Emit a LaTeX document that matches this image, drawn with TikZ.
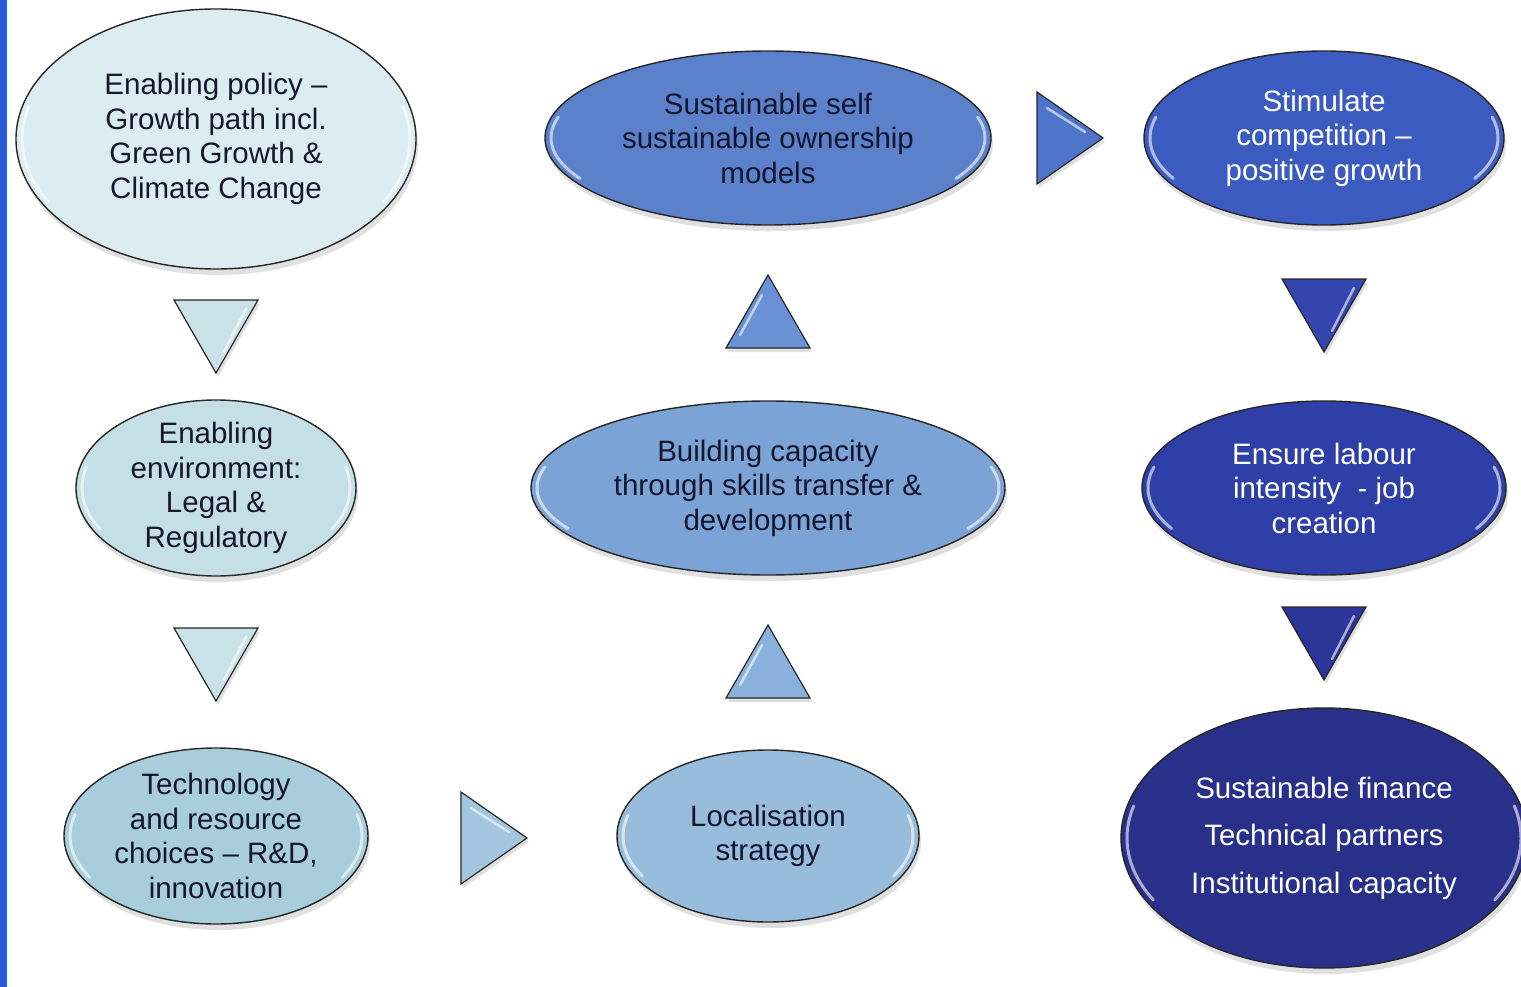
\documentclass[tikz,border=0pt]{standalone}
\usepackage{fontspec}
\setmainfont{Liberation Sans}
\usetikzlibrary{calc}
\definecolor{strip}{HTML}{2C5BD6}
\definecolor{cA}{HTML}{DCEDF1}
\definecolor{cB}{HTML}{C4DFE6}
\definecolor{cC}{HTML}{A8CDDC}
\definecolor{cD}{HTML}{98BDDC}
\definecolor{cE}{HTML}{7CA3D6}
\definecolor{cF}{HTML}{5B81CB}
\definecolor{cG}{HTML}{3C5BC0}
\definecolor{cH}{HTML}{2F3FA8}
\definecolor{cI}{HTML}{29308A}
\definecolor{tA}{HTML}{C8E2E8}
\definecolor{tB}{HTML}{A2C6E0}
\definecolor{tC}{HTML}{8AB1DC}
\definecolor{tD}{HTML}{6A91D3}
\definecolor{tE}{HTML}{4F75CB}
\definecolor{tF}{HTML}{3545B0}
\definecolor{tG}{HTML}{2C3598}
\definecolor{darktext}{HTML}{15152E}
\tikzset{
  ovalline/.style={draw=black!85, line width=1.4pt},
  txt/.style={align=center, inner sep=0pt, font=\fontsize{29.5}{34.5}\selectfont},
  gloss/.style={draw=white, line width=3pt, opacity=0.6, line cap=round},
  shadowfill/.style={fill=black, opacity=0.12},
  triline/.style={draw=black!85, line width=1.2pt, line join=miter}
}
% name, x, y, rx, ry, fill, textcolor, text
\newcommand\myoval[8]{%
  \fill[shadowfill] (#2+2,#3+6) ellipse [x radius=#4, y radius=#5];
  \path[ovalline, fill=#6] (#2,#3) ellipse [x radius=#4, y radius=#5];
  \draw[gloss] (#2,#3) ++(150:#4-6 and #5-6) arc [start angle=150, end angle=195, x radius=#4-6, y radius=#5-6];
  \draw[gloss] (#2,#3) ++(-15:#4-6 and #5-6) arc [start angle=-15, end angle=30, x radius=#4-6, y radius=#5-6];
  \node[txt, text=#7] (#1) at (#2,#3) {#8};
}
% down triangle: x, ytop, fill
\newcommand\downtri[3]{%
  \fill[shadowfill] (#1-42+2,#2+4) -- (#1+42+2,#2+4) -- (#1+2,#2+77) -- cycle;
  \path[triline, fill=#3] (#1-42,#2) -- (#1+42,#2) -- (#1,#2+73) -- cycle;
  \draw[gloss, line width=2.5pt] (#1+30,#2+9) -- (#1+8,#2+52);
}
% up triangle: x, ytip, fill
\newcommand\uptri[3]{%
  \fill[shadowfill] (#1+2,#2+4) -- (#1+42+2,#2+77) -- (#1-42+2,#2+77) -- cycle;
  \path[triline, fill=#3] (#1,#2) -- (#1+42,#2+73) -- (#1-42,#2+73) -- cycle;
  \draw[gloss, line width=2.5pt] (#1-6,#2+20) -- (#1-28,#2+60);
}
% right triangle: xleft, ymid, fill
\newcommand\righttri[3]{%
  \fill[shadowfill] (#1+2,#2-46+4) -- (#1+66+2,#2+4) -- (#1+2,#2+46+4) -- cycle;
  \path[triline, fill=#3] (#1,#2-46) -- (#1+66,#2) -- (#1,#2+46) -- cycle;
  \draw[gloss, line width=2.5pt] (#1+10,#2-30) -- (#1+48,#2-6);
}
\begin{document}
\begin{tikzpicture}[x=1pt,y=-1pt]
\useasboundingbox (0,0) rectangle (1521,987);
\fill[white] (0,0) rectangle (1521,987);
\fill[strip] (0,0) rectangle (7,987);

% left column
\myoval{policy}{216}{139}{200}{130}{cA}{darktext}{Enabling policy –\\Growth path incl.\\Green Growth \&\\Climate Change}
\myoval{environment}{216}{488}{140}{88}{cB}{darktext}{Enabling\\environment:\\Legal \&\\Regulatory}
\myoval{technology}{216}{836}{152}{88}{cC}{darktext}{Technology\\and resource\\choices – R\&D,\\innovation}

% middle column
\myoval{localisation}{768}{836}{151}{86}{cD}{darktext}{Localisation\\strategy}
\myoval{capacity}{768}{488}{237}{87}{cE}{darktext}{Building capacity\\through skills transfer \&\\development}
\myoval{ownership}{768}{138}{223}{87}{cF}{darktext}{Sustainable self\\sustainable ownership\\models}

% right column
\myoval{competition}{1324}{138}{180}{87}{cG}{white}{Stimulate\\competition –\\positive growth}
\myoval{labour}{1324}{488}{182}{87}{cH}{white}{Ensure labour\\intensity\ \ - job\\creation}
\myoval{finance}{1324}{838}{203}{130}{cI}{white}{Sustainable finance\\[13pt]Technical partners\\[13pt]Institutional capacity}

% triangles
\downtri{216}{300}{tA}
\downtri{216}{628}{tA}
\righttri{461}{838}{tB}
\uptri{768}{625}{tC}
\uptri{768}{275}{tD}
\righttri{1037}{138}{tE}
\downtri{1324}{279}{tF}
\downtri{1324}{607}{tG}
\end{tikzpicture}
\end{document}
